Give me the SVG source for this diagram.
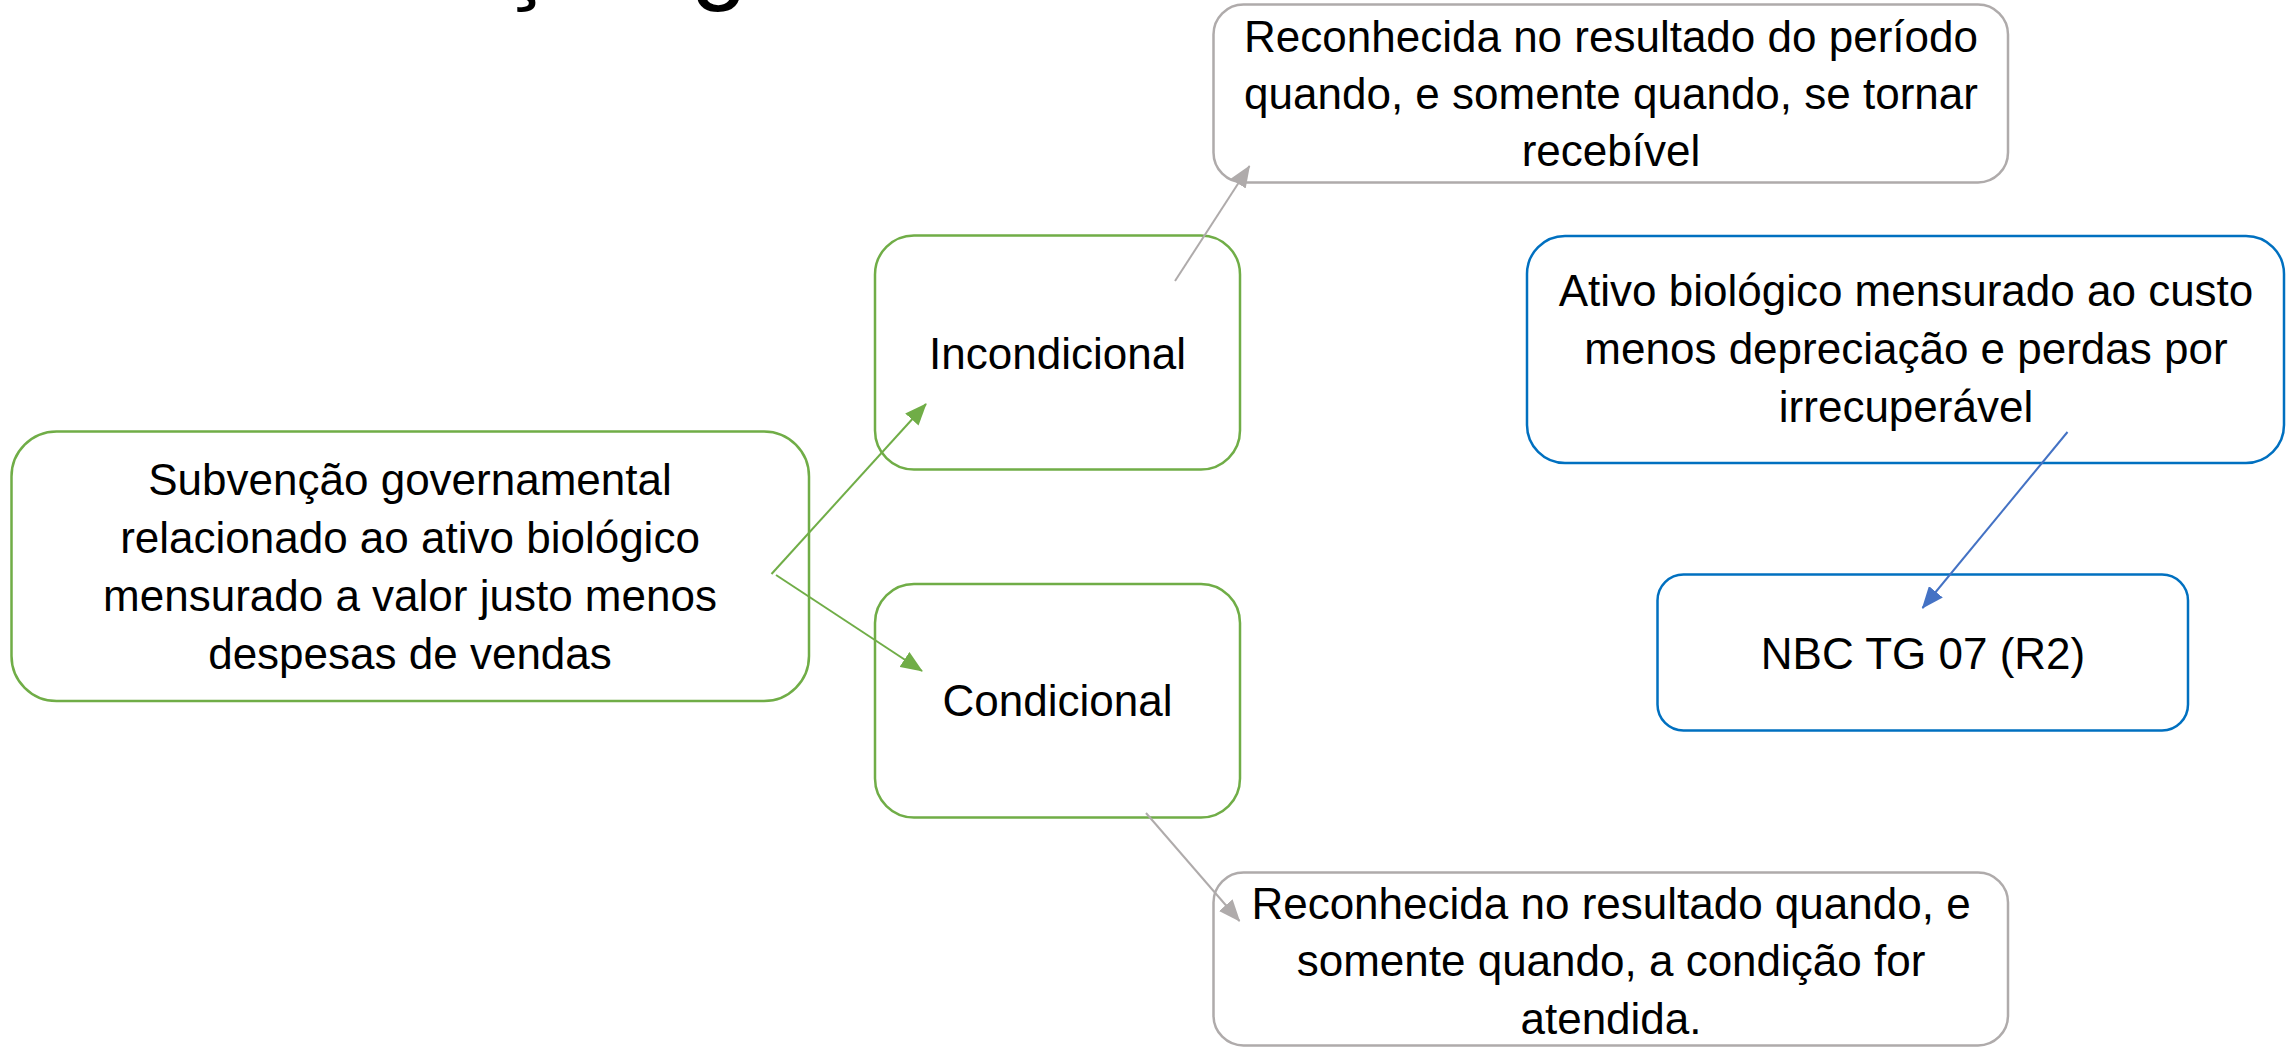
<svg xmlns="http://www.w3.org/2000/svg" width="2286" height="1047" viewBox="0 0 2286 1047">
<style>
.box{fill:#ffffff;stroke-width:2.5}
.g{stroke:#70AD47}
.gr{stroke:#AFABAB}
.b{stroke:#0070C0}
.t{font-family:"Liberation Sans",Arial,sans-serif;font-size:44px;fill:#000000;text-anchor:middle}
.title{font-family:"Liberation Sans",Arial,sans-serif;font-size:102px;fill:#000000}
.c{fill:none;stroke-width:2}
</style>
<defs>
<marker id="ag" markerUnits="userSpaceOnUse" markerWidth="22" markerHeight="18" refX="21" refY="9" orient="auto"><path d="M0,0 L22,9 L0,18 z" fill="#70AD47"/></marker>
<marker id="agr" markerUnits="userSpaceOnUse" markerWidth="22" markerHeight="18" refX="21" refY="9" orient="auto"><path d="M0,0 L22,9 L0,18 z" fill="#AFABAB"/></marker>
<marker id="ab" markerUnits="userSpaceOnUse" markerWidth="22" markerHeight="18" refX="21" refY="9" orient="auto"><path d="M0,0 L22,9 L0,18 z" fill="#4472C4"/></marker>
</defs>
<rect width="2286" height="1047" fill="#ffffff"/>
<text class="title" x="152" y="-9.5">Subvenção governamental</text>
<g id="node-subvencao">
<rect class="box g" x="11.5" y="431.5" width="797.5" height="269.5" rx="45"/>
<text class="t" x="410" y="495">Subvenção governamental</text>
<text class="t" x="410" y="553">relacionado ao ativo biológico</text>
<text class="t" x="410" y="611">mensurado a valor justo menos</text>
<text class="t" x="410" y="669">despesas de vendas</text>
</g>
<g id="node-incondicional">
<rect class="box g" x="875" y="235.5" width="365" height="234" rx="39"/>
<text class="t" x="1057.5" y="369">Incondicional</text>
</g>
<g id="node-condicional">
<rect class="box g" x="875" y="584" width="365" height="233.5" rx="39"/>
<text class="t" x="1057.5" y="716">Condicional</text>
</g>
<g id="node-reconhecida-periodo">
<rect class="box gr" x="1213.5" y="4.5" width="794.5" height="178" rx="30"/>
<text class="t" x="1611" y="52">Reconhecida no resultado do período</text>
<text class="t" x="1611" y="109">quando, e somente quando, se tornar</text>
<text class="t" x="1611" y="166">recebível</text>
</g>
<g id="node-reconhecida-condicao">
<rect class="box gr" x="1213.5" y="872.5" width="794.5" height="173" rx="30"/>
<text class="t" x="1611" y="919">Reconhecida no resultado quando, e</text>
<text class="t" x="1611" y="976">somente quando, a condição for</text>
<text class="t" x="1611" y="1034">atendida.</text>
</g>
<g id="node-ativo-custo">
<rect class="box b" x="1527" y="236" width="757" height="227" rx="38"/>
<text class="t" x="1906" y="306">Ativo biológico mensurado ao custo</text>
<text class="t" x="1906" y="364">menos depreciação e perdas por</text>
<text class="t" x="1906" y="422">irrecuperável</text>
</g>
<g id="node-nbc">
<rect class="box b" x="1657.5" y="574.5" width="530.5" height="156" rx="26"/>
<text class="t" x="1923" y="669">NBC TG 07 (R2)</text>
</g>
<g id="connectors">
<line class="c" stroke="#70AD47" x1="771.5" y1="574" x2="926" y2="404" marker-end="url(#ag)"/>
<line class="c" stroke="#70AD47" x1="776" y1="575" x2="922" y2="671" marker-end="url(#ag)"/>
<line class="c" stroke="#AFABAB" x1="1175" y1="281" x2="1249.5" y2="166" marker-end="url(#agr)"/>
<line class="c" stroke="#AFABAB" x1="1146" y1="813" x2="1239.5" y2="921" marker-end="url(#agr)"/>
<line class="c" stroke="#4472C4" x1="2067.5" y1="432" x2="1922.5" y2="608" marker-end="url(#ab)"/>
</g>
</svg>
